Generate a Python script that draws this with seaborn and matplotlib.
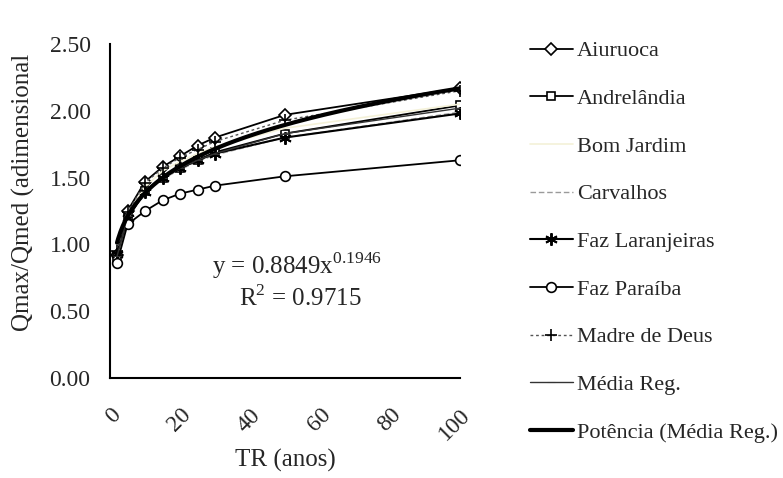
import numpy as np
import pandas as pd
import matplotlib
matplotlib.use("Agg")
import matplotlib.pyplot as plt
import seaborn as sns

# Return periods (years)
tr = [2, 5, 10, 15, 20, 25, 30, 50, 100]

# Dimensionless peak flow ratio Qmax/Qmed for each gauging station
aiuruoca = [0.92, 1.25, 1.47, 1.58, 1.66, 1.74, 1.80, 1.97, 2.17]
andrelandia = [0.90, 1.20, 1.40, 1.50, 1.57, 1.63, 1.69, 1.83, 2.04]
bom_jardim = [0.90, 1.22, 1.43, 1.55, 1.62, 1.68, 1.73, 1.87, 2.05]
carvalhos = [0.91, 1.19, 1.39, 1.49, 1.56, 1.62, 1.67, 1.80, 1.99]
faz_laranjeiras = [0.93, 1.20, 1.39, 1.50, 1.57, 1.63, 1.68, 1.80, 1.98]
faz_paraiba = [0.86, 1.15, 1.25, 1.33, 1.38, 1.41, 1.44, 1.51, 1.63]
madre_de_deus = [0.95, 1.24, 1.46, 1.57, 1.65, 1.71, 1.77, 1.93, 2.15]
media_reg = [0.91, 1.21, 1.40, 1.50, 1.57, 1.63, 1.68, 1.83, 2.02]

# Power trendline fitted to the regional mean
coef_a = 0.8849
coef_b = 0.1946
r2 = 0.9715

x_ticks = [0, 20, 40, 60, 80, 100]
y_ticks = [0.0, 0.5, 1.0, 1.5, 2.0, 2.5]

sns.set_style("white")
plt.rcParams["font.family"] = ["Liberation Serif", "DejaVu Serif"]
plt.rcParams["mathtext.fontset"] = "custom"
plt.rcParams["mathtext.rm"] = "Liberation Serif"

fig = plt.figure(figsize=(7.83, 4.78), dpi=100)
ax = fig.add_axes([0.1405, 0.209, 0.447, 0.699])

series = [
    ("Aiuruoca", aiuruoca, dict(color="black", lw=1.3, marker="D", ms=6,
                                mfc="white", mec="black", mew=1.2)),
    ("Andrelândia", andrelandia, dict(color="black", lw=1.3, marker="s", ms=6,
                                      mfc="white", mec="black", mew=1.2)),
    ("Bom Jardim", bom_jardim, dict(color="#f4f1d8", lw=1.2)),
    ("Carvalhos", carvalhos, dict(color="#9a9a9a", lw=1.0, ls=(0, (4, 2)))),
    ("Faz Laranjeiras", faz_laranjeiras, dict(color="black", lw=1.5, marker=(6, 2, 0),
                                              ms=9, mec="black", mew=1.4)),
    ("Faz Paraíba", faz_paraiba, dict(color="black", lw=1.3, marker="o", ms=7,
                                      mfc="white", mec="black", mew=1.2)),
    ("Madre de Deus", madre_de_deus, dict(color="#555555", lw=1.0, ls=(0, (2, 2)),
                                          marker="+", ms=8, mec="black", mew=1.2)),
    ("Média Reg.", media_reg, dict(color="#333333", lw=1.0, marker="_", ms=6,
                                   mec="#333333")),
]

for name, vals, style in series:
    sns.lineplot(x=tr, y=vals, ax=ax, label=name, **style)

# Power trendline y = a * x^b
x_fit = np.linspace(min(tr), max(tr), 300)
y_fit = coef_a * x_fit ** coef_b
sns.lineplot(x=x_fit, y=y_fit, ax=ax, color="black", lw=3.0,
             label="Potência (Média Reg.)")

ax.set_xlim(0, 100)
ax.set_ylim(0, 2.5)
ax.set_xticks(x_ticks)
ax.set_yticks(y_ticks)
ax.set_xticklabels([str(t) for t in x_ticks], rotation=45, ha="right",
                   rotation_mode="anchor", fontsize=17)
ax.set_yticklabels([f"{t:.2f}" for t in y_ticks], fontsize=17)
ax.tick_params(axis="both", direction="out", length=7, width=1.3, color="black")
ax.tick_params(axis="y", pad=7)
ax.tick_params(axis="x", pad=12)
for side in ("top", "right"):
    ax.spines[side].set_visible(False)
for side in ("left", "bottom"):
    ax.spines[side].set_color("black")
    ax.spines[side].set_linewidth(1.5)

ax.set_xlabel("TR (anos)", fontsize=18, labelpad=3)
ax.set_ylabel("Qmax/Qmed (adimensional", fontsize=18)
ax.yaxis.set_label_coords(-0.213, 0.555)

ax.text(0.535, 0.338, f"y = {coef_a}x$^{{{coef_b}}}$", transform=ax.transAxes,
        ha="center", va="center", fontsize=18)
ax.text(0.545, 0.24, f"R$^{{2}}$ = {r2}", transform=ax.transAxes,
        ha="center", va="center", fontsize=18)

handles, labels = ax.get_legend_handles_labels()
ax.legend_.remove()
fig.legend(handles, labels, loc="upper left", bbox_to_anchor=(0.666, 0.933),
           frameon=False, fontsize=16, labelspacing=1.22, handlelength=1.9,
           handletextpad=0.2, borderaxespad=0)

fig.savefig("out.png", dpi=100, facecolor="white")
